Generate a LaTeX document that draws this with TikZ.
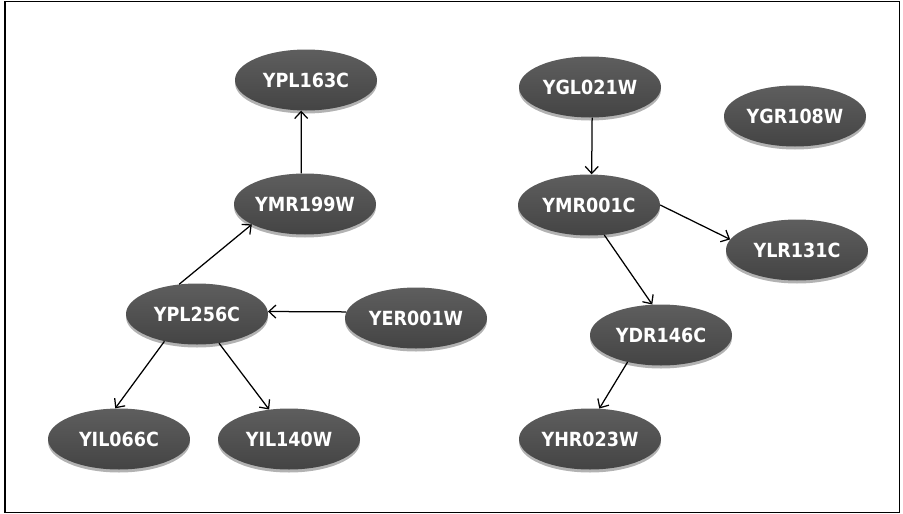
\documentclass[tikz,border=0pt]{standalone}
\usepackage{fontspec}
\newfontfamily\nodefont{DejaVu Sans Condensed}
\usetikzlibrary{shapes.geometric,arrows.meta,shadows}
\definecolor{nodetop}{HTML}{5E5E5E}
\definecolor{nodebot}{HTML}{444444}
\tikzset{
  gene/.style={ellipse, minimum width=142pt, minimum height=61pt, inner sep=0pt,
    top color=nodetop, bottom color=nodebot, draw=none,
    drop shadow={shadow xshift=0pt, shadow yshift=-3pt, opacity=0.3, fill=black},
    text=white, font=\nodefont\bfseries\fontsize{19.5}{21}\selectfont},
  link/.style={draw=black, line width=1.25pt, -{Straight Barb[length=7pt,width=13pt]}},
  frame/.style={draw=black, line width=1.5pt}
}
\begin{document}
\begin{tikzpicture}[x=1pt,y=-1pt]
\useasboundingbox (0,0) rectangle (903,514);
\draw[frame] (5,1.5) rectangle (899.5,512.5);
\node[gene] (ypl163c) at (306,80) {YPL163C};
\node[gene] (ymr199w) at (305,204) {YMR199W};
\node[gene] (ypl256c) at (197,314) {YPL256C};
\node[gene] (yer001w) at (416,318) {YER001W};
\node[gene] (yil066c) at (119,439) {YIL066C};
\node[gene] (yil140w) at (289,439) {YIL140W};
\node[gene] (ygl021w) at (590,87) {YGL021W};
\node[gene] (ygr108w) at (795,116) {YGR108W};
\node[gene] (ymr001c) at (589,205) {YMR001C};
\node[gene] (ylr131c) at (797,250) {YLR131C};
\node[gene] (ydr146c) at (661,335) {YDR146C};
\node[gene] (yhr023w) at (590,439) {YHR023W};
\draw[link] (ymr199w.97) -- (ypl163c.261);
\draw[link] (ypl256c.121) -- (ymr199w.201);
\draw[link] (yer001w.175) -- (ypl256c.2);
\draw[link] (ypl256c.220) -- (yil066c.97);
\draw[link] (ypl256c.307) -- (yil140w.124);
\draw[link] (ygl021w.274) -- (ymr001c.85);
\draw[link] (ymr001c.0) -- (ylr131c.171);
\draw[link] (ymr001c.297) -- (ydr146c.106);
\draw[link] (ydr146c.219) -- (yhr023w.73);
\end{tikzpicture}
\end{document}
